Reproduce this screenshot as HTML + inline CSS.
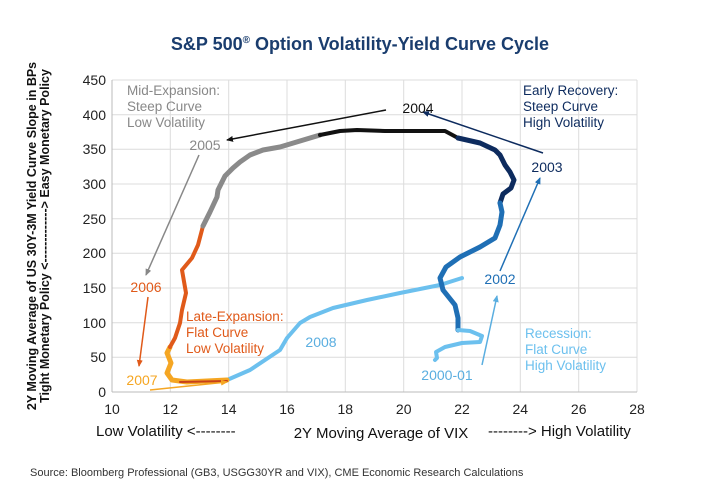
<!DOCTYPE html>
<html><head><meta charset="utf-8"><style>
body{margin:0;background:#fff;}
svg{display:block;font-family:"Liberation Sans",sans-serif;}
</style></head><body>
<svg width="720" height="500" viewBox="0 0 720 500" xmlns="http://www.w3.org/2000/svg">
<defs>
<marker id="ab" markerWidth="8" markerHeight="8" refX="6" refY="3" orient="auto" markerUnits="userSpaceOnUse"><path d="M0,0 L7,3 L0,6 z" fill="#111"/></marker>
<marker id="an" markerWidth="8" markerHeight="8" refX="6" refY="3" orient="auto" markerUnits="userSpaceOnUse"><path d="M0,0 L7,3 L0,6 z" fill="#0d2b5e"/></marker>
<marker id="ag" markerWidth="8" markerHeight="8" refX="6" refY="3" orient="auto" markerUnits="userSpaceOnUse"><path d="M0,0 L7,3 L0,6 z" fill="#888"/></marker>
<marker id="ao" markerWidth="8" markerHeight="8" refX="6" refY="3" orient="auto" markerUnits="userSpaceOnUse"><path d="M0,0 L7,3 L0,6 z" fill="#e05a1a"/></marker>
<marker id="ay" markerWidth="8" markerHeight="8" refX="6" refY="3" orient="auto" markerUnits="userSpaceOnUse"><path d="M0,0 L7,3 L0,6 z" fill="#f5a623"/></marker>
<marker id="am" markerWidth="8" markerHeight="8" refX="6" refY="3" orient="auto" markerUnits="userSpaceOnUse"><path d="M0,0 L7,3 L0,6 z" fill="#1f6fb5"/></marker>
<marker id="al" markerWidth="8" markerHeight="8" refX="6" refY="3" orient="auto" markerUnits="userSpaceOnUse"><path d="M0,0 L7,3 L0,6 z" fill="#5aaee0"/></marker>
</defs>
<text x="360" y="50" text-anchor="middle" font-size="18" font-weight="bold" fill="#1a3d6e">S&amp;P 500<tspan font-size="10" dy="-7">®</tspan><tspan dy="7"> Option Volatility-Yield Curve Cycle</tspan></text>
<g stroke="#dcdcdc" stroke-width="1">
<line x1="112" y1="80" x2="637" y2="80"/><line x1="112" y1="114.7" x2="637" y2="114.7"/><line x1="112" y1="149.3" x2="637" y2="149.3"/><line x1="112" y1="184" x2="637" y2="184"/><line x1="112" y1="218.7" x2="637" y2="218.7"/><line x1="112" y1="253.3" x2="637" y2="253.3"/><line x1="112" y1="288" x2="637" y2="288"/><line x1="112" y1="322.7" x2="637" y2="322.7"/><line x1="112" y1="357.3" x2="637" y2="357.3"/>
<line x1="170.3" y1="80" x2="170.3" y2="392"/><line x1="228.7" y1="80" x2="228.7" y2="392"/><line x1="287" y1="80" x2="287" y2="392"/><line x1="345.3" y1="80" x2="345.3" y2="392"/><line x1="403.7" y1="80" x2="403.7" y2="392"/><line x1="462" y1="80" x2="462" y2="392"/><line x1="520.3" y1="80" x2="520.3" y2="392"/><line x1="578.7" y1="80" x2="578.7" y2="392"/><line x1="637" y1="80" x2="637" y2="392"/>
</g>
<line x1="112" y1="80" x2="112" y2="392" stroke="#bbb"/><line x1="112" y1="392" x2="637" y2="392" stroke="#bbb"/>
<g font-size="14" fill="#222" text-anchor="end">
<text x="106" y="85">450</text><text x="106" y="120">400</text><text x="106" y="154">350</text><text x="106" y="189">300</text><text x="106" y="224">250</text><text x="106" y="258">200</text><text x="106" y="293">150</text><text x="106" y="328">100</text><text x="106" y="362">50</text><text x="106" y="397">0</text>
</g>
<g font-size="14" fill="#222" text-anchor="middle">
<text x="112" y="414">10</text><text x="170.3" y="414">12</text><text x="228.7" y="414">14</text><text x="287" y="414">16</text><text x="345.3" y="414">18</text><text x="403.7" y="414">20</text><text x="462" y="414">22</text><text x="520.3" y="414">24</text><text x="578.7" y="414">26</text><text x="637" y="414">28</text>
</g>
<text x="96" y="436" font-size="15" fill="#111">Low Volatility &lt;--------</text>
<text x="381" y="438" font-size="15" fill="#111" text-anchor="middle">2Y Moving Average of VIX</text>
<text x="488" y="436" font-size="15" fill="#111">--------&gt; High Volatility</text>
<text x="30" y="476" font-size="11" fill="#333">Source: Bloomberg Professional (GB3, USGG30YR and VIX), CME Economic Research Calculations</text>
<g transform="translate(36,236) rotate(-90)" font-size="12.5" font-weight="bold" fill="#111" text-anchor="middle">
<text x="0" y="0">2Y Moving Average of US 30Y-3M Yield Curve Slope in BPs</text>
<text x="0" y="13">Tight Monetary Policy &lt;-------------&gt; Easy Monetary Policy</text>
</g>
<g fill="none" stroke-linejoin="round" stroke-linecap="round">
<polyline stroke="#6cc0ee" stroke-width="4" points="227,380 250,370 280,350 287,338 300,323 310,317 333,308 367,300 400,293 440,285 462,278"/>
<polyline stroke="#f5a623" stroke-width="5" points="170,347 167,353 171,363 167,373 172,380 187,382 227,380"/>
<polyline stroke="#c8401a" stroke-width="2" points="180,382 227,381"/>
<polyline stroke="#e05a1a" stroke-width="4" points="203,226 198,245 192,258 182,270 186,293 182,310 180,323 175,338 170,347"/>
<polyline stroke="#8a8a8a" stroke-width="5" points="203,226 210,212 217,197 218,190 225,176 233,168 240,162 250,155 263,150 280,147 300,141 320,135"/>
<polyline stroke="#111" stroke-width="4" points="320,135 340,131 357,130 385,131 445,131 458,138"/>
<polyline stroke="#0d2b5e" stroke-width="5" points="458,138 480,143 495,150 500,155 505,165 510,172 514,180 511,188 503,194 500,203"/>
<polyline stroke="#1f6fb5" stroke-width="5" points="500,203 502,212 500,225 495,238 480,247 460,257 446,267 440,278 443,290 455,305 458,318 458,330"/>
<polyline stroke="#6cc0ee" stroke-width="4" points="458,330 470,331 482,336 480,342 462,343 445,347 436,352 437,358 435,360"/>
</g>
<g stroke-width="1.5" fill="none">
<line x1="386" y1="110" x2="227" y2="140" stroke="#111" marker-end="url(#ab)"/>
<line x1="543" y1="153" x2="423" y2="112" stroke="#0d2b5e" marker-end="url(#an)"/>
<line x1="199" y1="155" x2="146" y2="275" stroke="#888" marker-end="url(#ag)"/>
<line x1="148" y1="297" x2="139" y2="366" stroke="#e05a1a" marker-end="url(#ao)"/>
<line x1="150" y1="390" x2="227" y2="382" stroke="#f5a623" marker-end="url(#ay)"/>
<line x1="500" y1="271" x2="540" y2="178" stroke="#1f6fb5" marker-end="url(#am)"/>
<line x1="482" y1="365" x2="497" y2="296" stroke="#5aaee0" marker-end="url(#al)"/>
</g>
<g font-size="14">
<text x="418" y="113" text-anchor="middle" fill="#111">2004</text>
<text x="547" y="172" text-anchor="middle" fill="#0d2b5e">2003</text>
<text x="500" y="284" text-anchor="middle" fill="#1f6fb5">2002</text>
<text x="447" y="380" text-anchor="middle" fill="#5aaee0">2000-01</text>
<text x="205" y="150" text-anchor="middle" fill="#888">2005</text>
<text x="146" y="292" text-anchor="middle" fill="#e05a1a">2006</text>
<text x="142" y="385" text-anchor="middle" fill="#f5a623">2007</text>
<text x="321" y="347" text-anchor="middle" fill="#5aaee0">2008</text>
</g>
<g font-size="13.5">
<text fill="#888"><tspan x="127" y="95">Mid-Expansion:</tspan><tspan x="127" y="111">Steep Curve</tspan><tspan x="127" y="127">Low Volatility</tspan></text>
<text fill="#e05a1a"><tspan x="186" y="321">Late-Expansion:</tspan><tspan x="186" y="337">Flat Curve</tspan><tspan x="186" y="353">Low Volatility</tspan></text>
<text fill="#0d2b5e"><tspan x="523" y="95">Early Recovery:</tspan><tspan x="523" y="111">Steep Curve</tspan><tspan x="523" y="127">High Volatility</tspan></text>
<text fill="#6cc0ee"><tspan x="525" y="338">Recession:</tspan><tspan x="525" y="354">Flat Curve</tspan><tspan x="525" y="370">High Volatility</tspan></text>
</g>
</svg>
</body></html>
